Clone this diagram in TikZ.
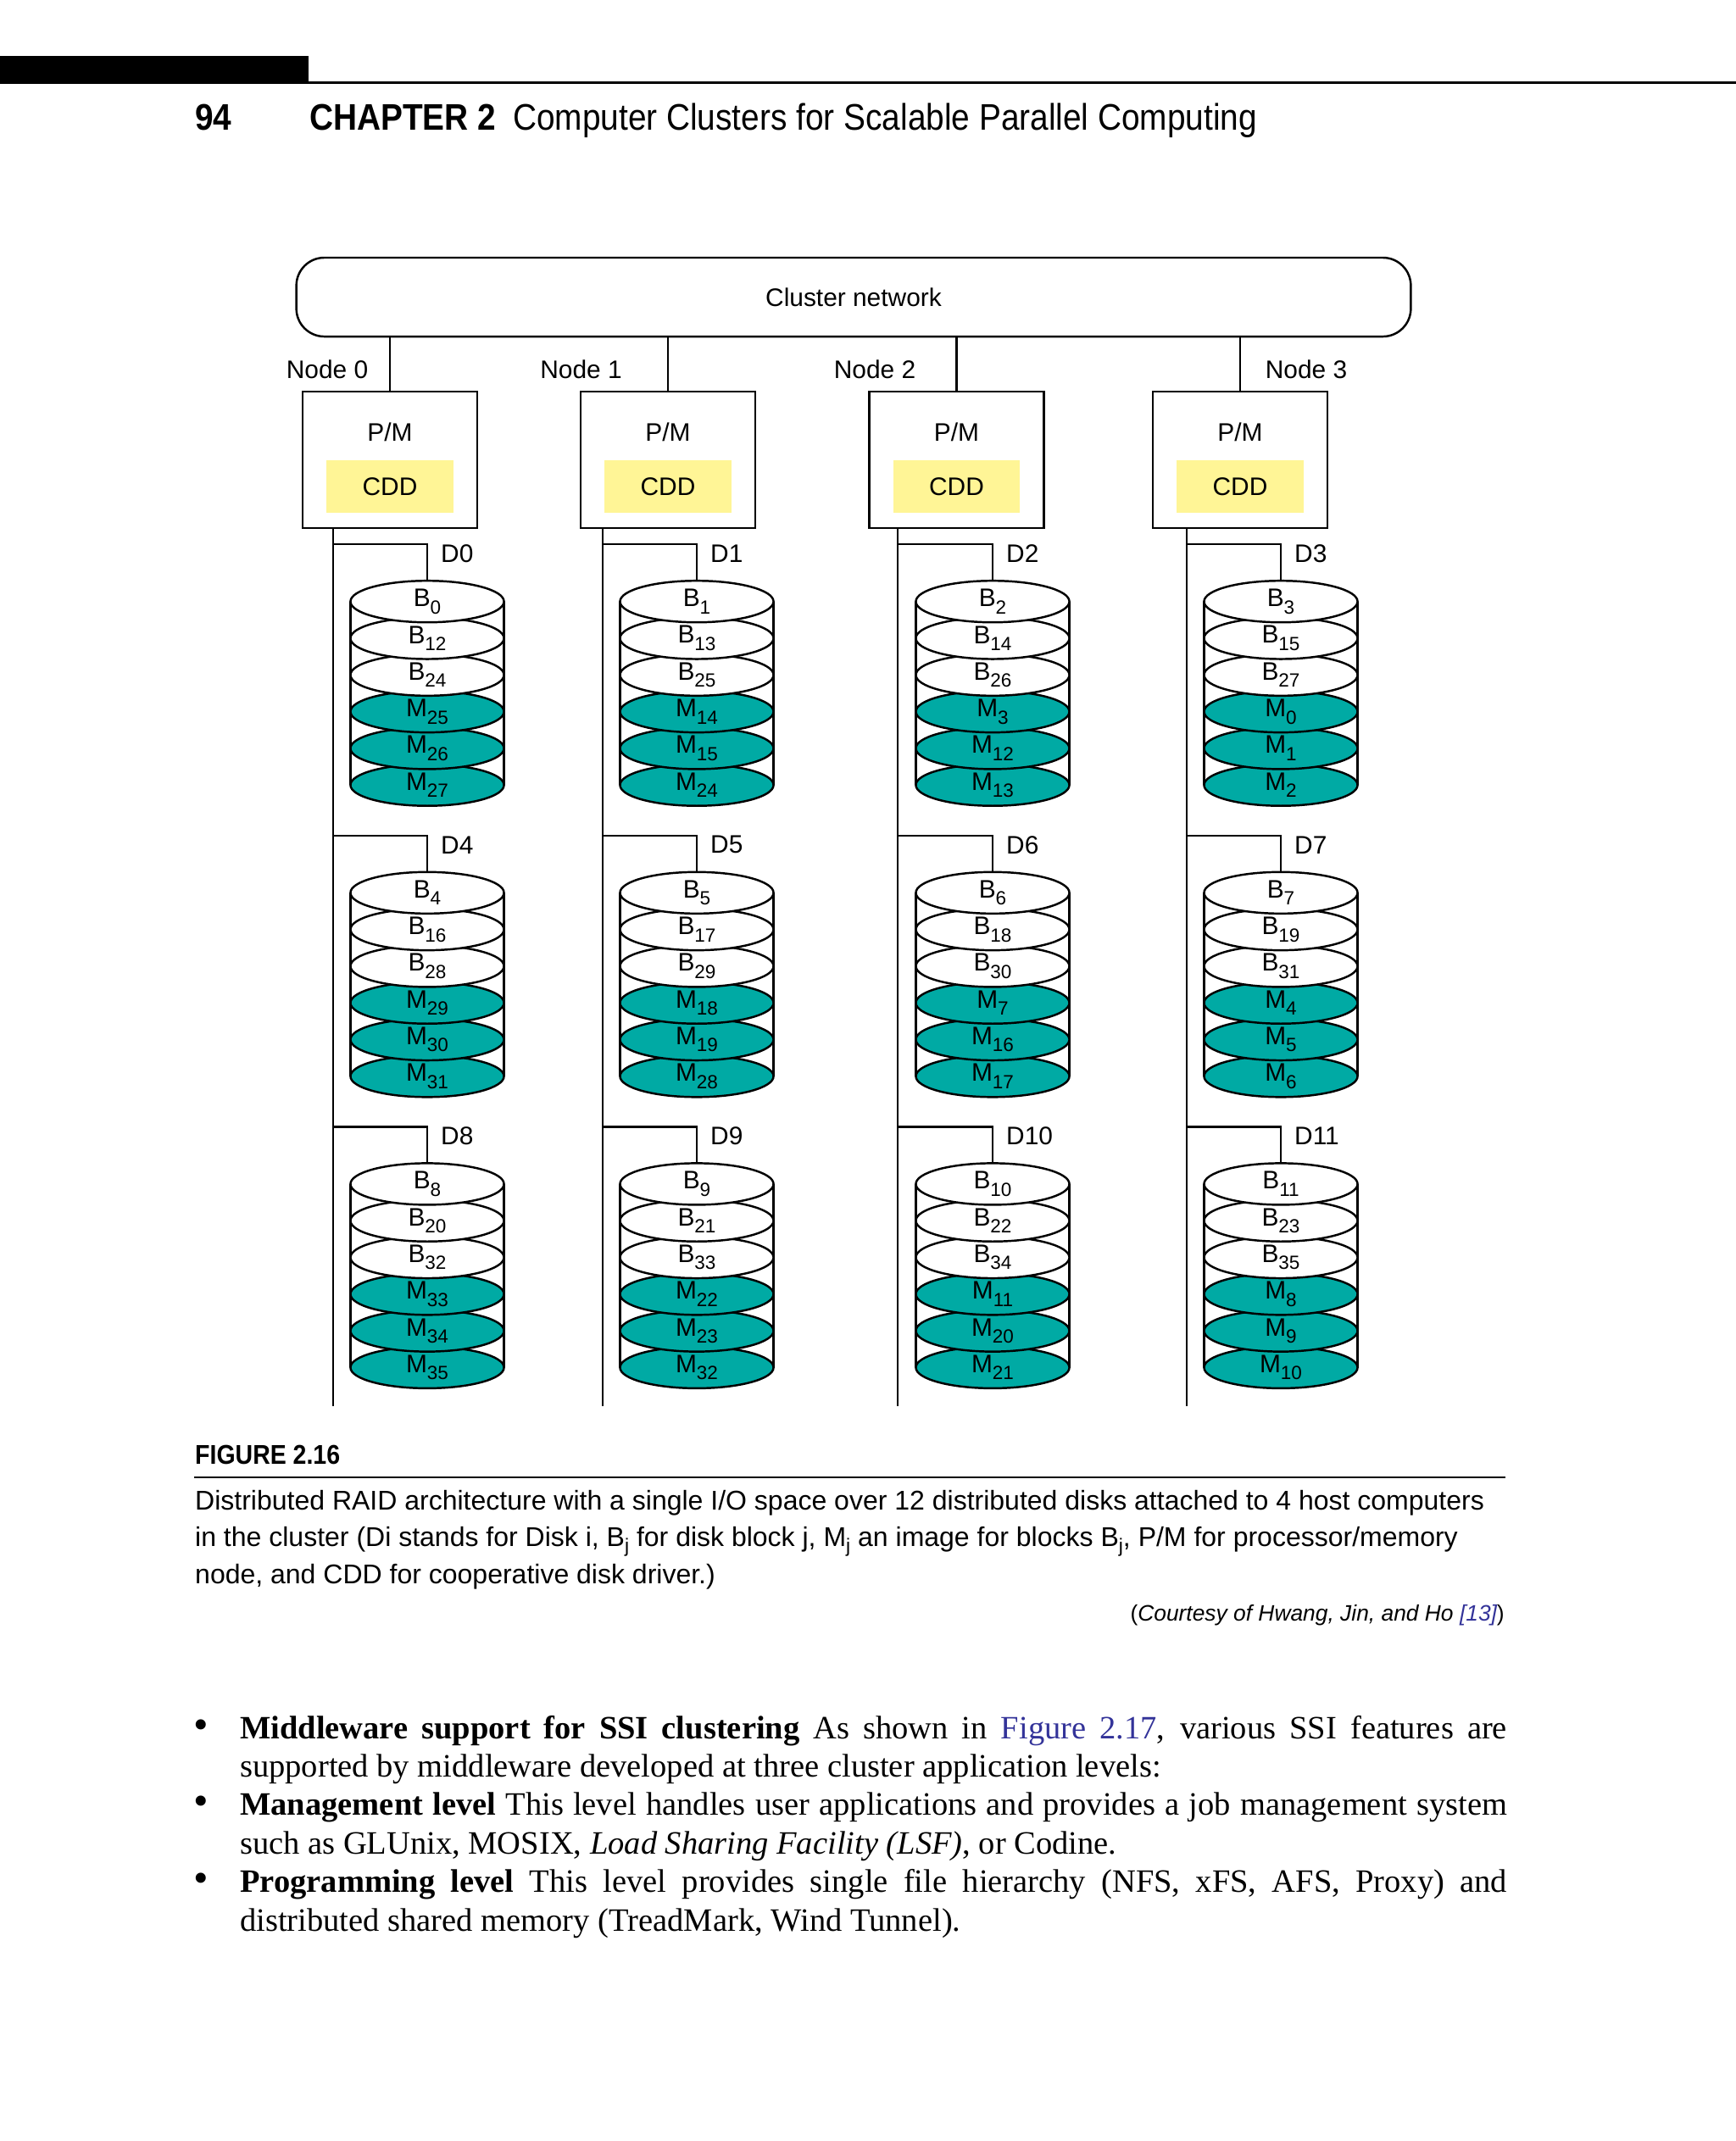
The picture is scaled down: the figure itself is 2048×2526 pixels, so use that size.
\documentclass[tikz,border=0pt]{standalone}
\usepackage{fontspec}
\setmainfont{Liberation Serif}
\newfontfamily\sansf{Liberation Sans}
\newfontfamily\condf[FakeStretch=0.89]{Liberation Sans}
\usetikzlibrary{shapes.geometric, positioning}

\definecolor{diskteal}{RGB}{0,170,164}
\definecolor{cddyellow}{RGB}{255,245,150}
\definecolor{linkblue}{RGB}{51,51,153}

% block index in the disks, and index in the caption
\newcommand{\dsub}[1]{\raisebox{-2.4pt}{\fontsize{6.4}{7}\selectfont #1}}
\newcommand{\csub}[1]{\raisebox{-2pt}{\fontsize{6.5}{7}\selectfont #1}}

\begin{document}
\begin{tikzpicture}[x=0.01cm, y=-0.01cm, line width=0.7pt,
    lbl/.style={font=\sansf\fontsize{8.5}{10}\selectfont, inner sep=0pt},
    network/.style={draw, rounded corners=0.33cm, minimum width=13.14cm, minimum height=0.93cm, lbl},
    pmbox/.style={draw, minimum width=2.06cm, minimum height=1.61cm},
    cddbox/.style={fill=cddyellow, minimum width=1.49cm, minimum height=0.62cm, lbl},
    blayer/.style={draw, ellipse, fill=white, minimum width=1.81cm, minimum height=0.49cm, inner sep=0pt, lbl},
    mlayer/.style={blayer, fill=diskteal},
    head/.style={font=\condf\fontsize{12.4}{14}\selectfont, inner sep=0pt, anchor=base west},
    captxt/.style={font=\sansf\fontsize{9.1}{11}\selectfont, inner sep=0pt, anchor=base west},
    bodytxt/.style={font=\fontsize{10.95}{13}\selectfont, inner sep=0pt, anchor=base west}
]
\useasboundingbox (0,0) rectangle (2048,2526);

% running head
\fill (0,66) rectangle (364,99);
\draw[line width=0.85pt] (364,97.5) -- (2048,97.5);
\node[head] (pgno) at (229,153) {\bfseries 94};
\node[head] (chap) at (364,153) {\bfseries CHAPTER 2};
\node[head] (title) at (604,153) {Computer Clusters for Scalable Parallel Computing};

% network and hosts
\node[network] (net) at (1007,350.5) {Cluster network};
\foreach \n/\px/\bx/\lx in {0/460/393/386, 1/788/711/685.5, 2/1128.5/1059/1032, 3/1463/1400/1541} {
  \node[pmbox] (pm\n) at (\px,542.5) {};
  \node[lbl] (pmt\n) at (\px,510) {P/M};
  \node[cddbox] (cdd\n) at (\px,574) {CDD};
  \node[lbl] (host\n) at (\lx,436) {Node \n};
  \draw (pm\n.north) -- (pm\n.north |- net.south);
  \coordinate (bus\n) at (\bx,1659);
  \draw (pm\n.south -| bus\n) -- (bus\n);
}

% disks: D = B, B+12, B+24 and three mirrored blocks
\foreach \d/\ma/\mb/\mc in {0/25/26/27, 1/14/15/24, 2/3/12/13, 3/0/1/2,
    4/29/30/31, 5/18/19/28, 6/7/16/17, 7/4/5/6,
    8/33/34/35, 9/22/23/32, 10/11/20/21, 11/8/9/10} {
  \pgfmathtruncatemacro{\col}{mod(\d,4)}
  \pgfmathsetmacro{\cx}{{504,822,1171,1511}[\col]}
  \pgfmathsetmacro{\bx}{{393,711,1059,1400}[\col]}
  \pgfmathsetmacro{\ty}{709.7+343.6*int(\d/4)}
  \pgfmathtruncatemacro{\bb}{\d+12}
  \pgfmathtruncatemacro{\bc}{\d+24}
  \draw (\cx-90.5,\ty) -- ++(0,216.5) (\cx+90.5,\ty) -- ++(0,216.5);
  \node[mlayer] (d\d-m3) at (\cx,\ty+216.5) {M\dsub{\mc}};
  \node[mlayer] (d\d-m2) at (\cx,\ty+173.2) {M\dsub{\mb}};
  \node[mlayer] (d\d-m1) at (\cx,\ty+129.9) {M\dsub{\ma}};
  \node[blayer] (d\d-b3) at (\cx,\ty+86.6) {B\dsub{\bc}};
  \node[blayer] (d\d-b2) at (\cx,\ty+43.3) {B\dsub{\bb}};
  \node[blayer] (d\d-b1) at (\cx,\ty) {B\dsub{\d}};
  \coordinate (j\d) at (\bx,\ty-67.5);
  \draw (j\d) -| (d\d-b1.north);
  \node[lbl, anchor=west] (dl\d) at (\cx+15,\ty-56.5) {D\d};
}

% caption
\node[captxt, font=\condf\bfseries\fontsize{9.1}{10}\selectfont] (fig) at (229,1727) {FIGURE 2.16};
\draw (229,1743) -- (1776,1743);
\node[captxt] (cap1) at (229,1781) {Distributed RAID architecture with a single I/O space over 12 distributed disks attached to 4 host computers};
\node[captxt] (cap2) at (229,1824) {in the cluster (Di stands for Disk i, B\csub{j} for disk block j, M\csub{j} an image for blocks B\csub{j}, P/M for processor/memory};
\node[captxt] (cap3) at (229,1868) {node, and CDD for cooperative disk driver.)};
\node[captxt, anchor=base east, font=\sansf\fontsize{7.5}{9}\selectfont] (court) at (1776,1912)
  {(\textit{Courtesy of Hwang, Jin, and Ho \textcolor{linkblue}{[13]}})};

% body text
\foreach \y in {2051,2141.8,2232.6}
  \node[bodytxt, scale=1.3] at (227,\y) {\textbullet};
\node[bodytxt] (l1) at (282,2051) {\makebox[14.94cm][s]{\textbf{Middleware support for SSI clustering} As shown in \textcolor{linkblue}{Figure 2.17}, various SSI features are}};
\node[bodytxt] (l2) at (282,2096.4) {supported by middleware developed at three cluster application levels:};
\node[bodytxt] (l3) at (282,2141.8) {\makebox[14.94cm][s]{\textbf{Management level} This level handles user applications and provides a job management system}};
\node[bodytxt] (l4) at (282,2187.2) {such as GLUnix, MOSIX, \textit{Load Sharing Facility (LSF)}, or Codine.};
\node[bodytxt] (l5) at (282,2232.6) {\makebox[14.94cm][s]{\textbf{Programming level} This level provides single file hierarchy (NFS, xFS, AFS, Proxy) and}};
\node[bodytxt] (l6) at (282,2278) {distributed shared memory (TreadMark, Wind Tunnel).};

\end{tikzpicture}
\end{document}
